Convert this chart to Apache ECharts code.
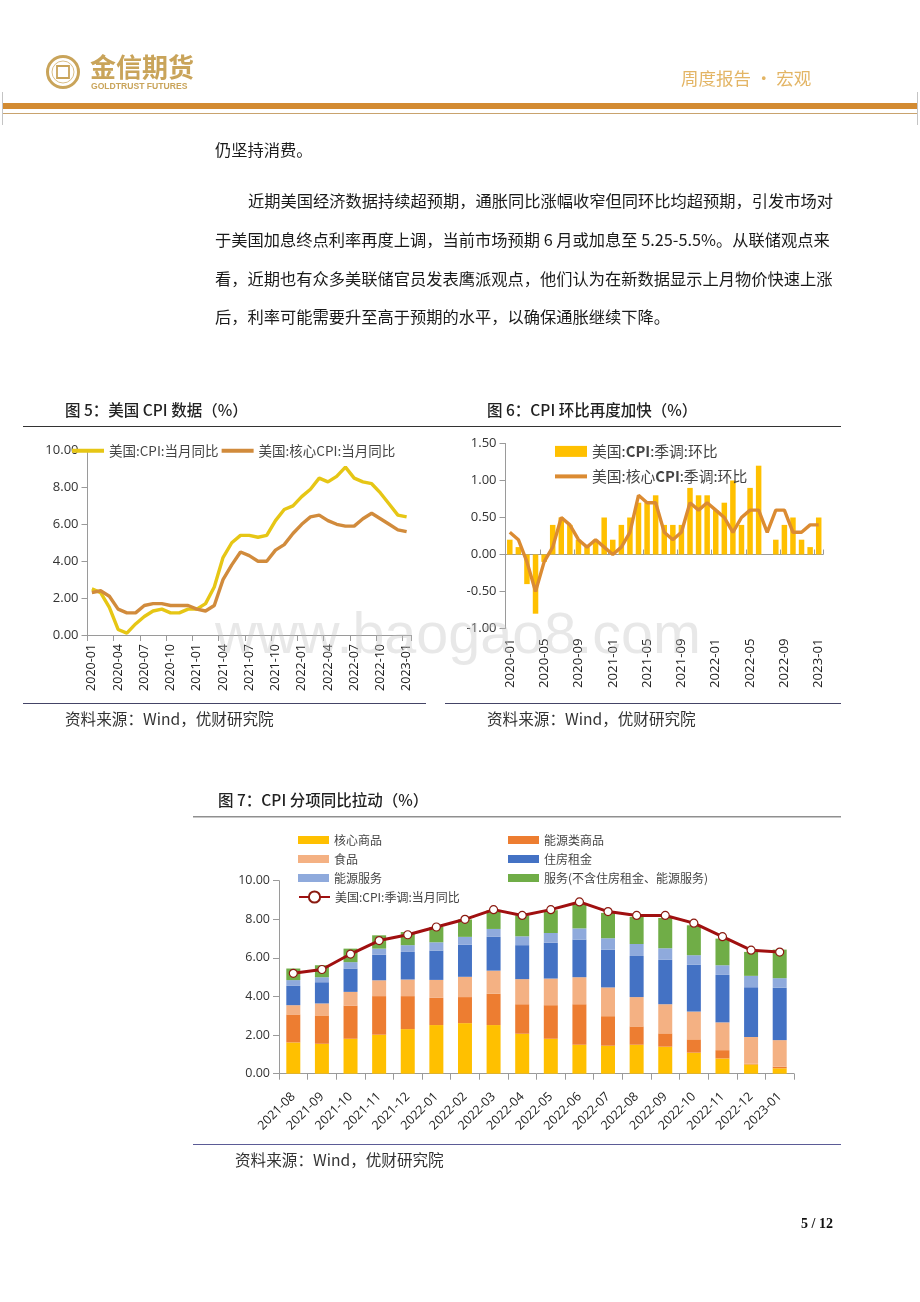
<!DOCTYPE html>
<html><head><meta charset="utf-8"><style>html,body{margin:0;padding:0;background:#fff}#c{width:920px;height:1302px}</style>
<script src="https://cdn.jsdelivr.net/npm/echarts@6/dist/echarts.min.js"></script></head>
<body><div id="c"></div>
<script>
const monthsA = [];
for (const [y, n] of [[2020, 12], [2021, 12], [2022, 12], [2023, 1]]) for (let m = 1; m <= n; m++) monthsA.push(y + '-' + String(m).padStart(2, '0'));
const cpiYoY = [2.5,2.3,1.5,0.3,0.1,0.6,1.0,1.3,1.4,1.2,1.2,1.4,1.4,1.7,2.6,4.2,5.0,5.4,5.4,5.3,5.4,6.2,6.8,7.0,7.5,7.9,8.5,8.3,8.6,9.1,8.5,8.3,8.2,7.7,7.1,6.5,6.4];
const coreYoY = [2.3,2.4,2.1,1.4,1.2,1.2,1.6,1.7,1.7,1.6,1.6,1.6,1.4,1.3,1.6,3.0,3.8,4.5,4.3,4.0,4.0,4.6,4.9,5.5,6.0,6.4,6.5,6.2,6.0,5.9,5.9,6.3,6.6,6.3,6.0,5.7,5.6];
const cpiMoM = [0.2,0.1,-0.4,-0.8,-0.1,0.4,0.5,0.4,0.2,0.1,0.2,0.5,0.2,0.4,0.5,0.7,0.7,0.8,0.4,0.4,0.4,0.9,0.8,0.8,0.6,0.7,1.0,0.4,0.9,1.2,0,0.2,0.4,0.5,0.2,0.1,0.5];
const coreMoM = [0.3,0.2,-0.1,-0.5,-0.1,0.1,0.5,0.4,0.2,0.1,0.2,0.1,0,0.1,0.3,0.8,0.7,0.7,0.3,0.2,0.3,0.7,0.6,0.7,0.6,0.5,0.3,0.5,0.6,0.6,0.3,0.6,0.6,0.3,0.3,0.4,0.4];
const monthsB = ['2021-08','2021-09','2021-10','2021-11','2021-12','2022-01','2022-02','2022-03','2022-04','2022-05','2022-06','2022-07','2022-08','2022-09','2022-10','2022-11','2022-12','2023-01'];
const coreGoods = [1.62,1.55,1.81,2.02,2.31,2.52,2.62,2.52,2.07,1.81,1.5,1.45,1.5,1.4,1.09,0.79,0.48,0.28];
const energyGoods = [1.45,1.47,1.72,2.0,1.71,1.41,1.35,1.62,1.53,1.74,2.1,1.53,0.95,0.69,0.69,0.43,0.04,0.08];
const food = [0.48,0.62,0.71,0.82,0.86,0.93,1.05,1.2,1.3,1.38,1.4,1.49,1.52,1.51,1.44,1.44,1.38,1.38];
const rent = [1.0,1.1,1.21,1.33,1.43,1.52,1.67,1.75,1.76,1.86,1.95,1.96,2.13,2.3,2.42,2.46,2.58,2.71];
const energyServices = [0.3,0.26,0.33,0.31,0.35,0.43,0.4,0.41,0.46,0.5,0.58,0.59,0.62,0.6,0.5,0.5,0.59,0.5];
const otherServices = [0.6,0.62,0.7,0.69,0.68,0.79,0.9,0.97,1.08,1.18,1.28,1.31,1.4,1.57,1.55,1.38,1.24,1.48];
const cpiTotal = [5.2,5.4,6.2,6.9,7.2,7.6,8.0,8.5,8.2,8.5,8.9,8.4,8.2,8.2,7.8,7.1,6.4,6.3];
const bodyLines = [
  ['仍坚持消费。', 215, 150],
  ['近期美国经济数据持续超预期，通胀同比涨幅收窄但同环比均超预期，引发市场对', 248, 201],
  ['于美国加息终点利率再度上调，当前市场预期 6 月或加息至 5.25-5.5%。从联储观点来', 215, 240],
  ['看，近期也有众多美联储官员发表鹰派观点，他们认为在新数据显示上月物价快速上涨', 215, 279],
  ['后，利率可能需要升至高于预期的水平，以确保通胀继续下降。', 215, 317]
];
const captions = [
  ['图 5：美国 CPI 数据（%）', 65, 410],['图 6：CPI 环比再度加快（%）', 487, 410],['图 7：CPI 分项同比拉动（%）', 218, 800]
];
const sources = [['资料来源：Wind，优财研究院', 65, 719],['资料来源：Wind，优财研究院', 487, 719],['资料来源：Wind，优财研究院', 235, 1160]];

const CJK = '"Noto Sans CJK SC"';
const AX = '#9a9a9a', TX = '#444';
const txt = (t, x, y, size, extra = {}) => ({type:'text', silent:true, x, y, style:Object.assign({text:t, fontSize:size, fontFamily:CJK, fill:'#1a1a1a', verticalAlign:'middle'}, extra)});
const rect = (x, y, w, h, fill) => ({type:'rect', silent:true, shape:{x, y, width:w, height:h}, style:{fill}});
const graphics = [
  rect(3, 103, 914, 6, '#D38B32'), rect(3, 113, 914, 1, '#C9A36E'),
  rect(2, 92, 1, 33, '#c4c4c4'), rect(917, 92, 1, 33, '#c4c4c4'),
  {type:'circle', silent:true, shape:{cx:63, cy:72, r:15.5}, style:{fill:'none', stroke:'#C9A45A', lineWidth:3}},
  {type:'circle', silent:true, shape:{cx:63, cy:72, r:11}, style:{fill:'none', stroke:'#D9BE86', lineWidth:1}},
  {type:'rect', silent:true, shape:{x:57, y:66, width:12, height:12}, style:{fill:'#fff', stroke:'#C9A45A', lineWidth:1.8}},
  txt('金信期货', 90, 67, 26, {fill:'#C9A45A', fontWeight:'bold'}),
  txt('GOLDTRUST FUTURES', 91, 87, 8.6, {fill:'#C9A45A', fontFamily:'"Liberation Sans"', fontWeight:'bold'}),
  txt('周度报告 • 宏观', 681, 78, 17.5, {fill:'#E3B565'}),
  rect(23, 426, 818, 1, '#333'),
  rect(23, 703, 403, 1, '#444466'), rect(445, 703, 396, 1, '#444466'),
  rect(193, 816, 648, 1.5, '#8f8f8f'), rect(193, 1144, 648, 1, '#5b5b96'),
  txt('5 / 12', 833, 1224, 14, {fill:'#111', fontFamily:'"Liberation Serif"', fontWeight:'bold', align:'right'}),
  txt('www.baogao8.com', 215, 637, 57.5, {fill:'rgba(190,190,190,0.36)', fontFamily:'"Liberation Sans"'})
];
graphics[graphics.length - 1].z = 100;
bodyLines.forEach(l => graphics.push(txt(l[0], l[1], l[2], 16.25)));
captions.forEach(l => graphics.push(txt(l[0], l[1], l[2], 15.5, {fontWeight:500, fill:'#222'})));
sources.forEach(l => graphics.push(txt(l[0], l[1], l[2], 15.6, {fill:'#333'})));

const yA = (gi, min, max, iv, size) => ({type:'value', gridIndex:gi, min, max, interval:iv, splitLine:{show:false},
  axisLine:{show:true, lineStyle:{color:AX, width:1}}, axisTick:{show:true, length:6, lineStyle:{color:AX}},
  axisLabel:{fontFamily:'"Open Sans"', fontSize:size, color:'#333', margin:9, formatter:v => v.toFixed(2)}});
const legendA = {fontFamily:CJK, fontSize:13.5, color:TX};
const legendB = {fontFamily:CJK, fontSize:14.8, color:TX, rich:{b:{fontFamily:CJK, fontSize:14.8, fontWeight:'bold', color:TX}}};
const legendC = {fontFamily:CJK, fontSize:12, color:TX, lineHeight:14};
const boldCpi = n => n.replace('CPI', '{b|CPI}');
const bar = (name, data, color) => ({name, type:'bar', stack:'a', xAxisIndex:3, yAxisIndex:2, data, barWidth:14, itemStyle:{color}});

const option = {
  animation:false,
  graphic:{elements:graphics},
  grid:[
    {left:87.5, top:450.5, width:323.5, height:184.5},
    {left:505.5, top:443.5, width:317.5, height:185},
    {left:279, top:880.7, width:515, height:193}
  ],
  xAxis:[
    {type:'category', gridIndex:0, data:monthsA, axisLine:{lineStyle:{color:AX}}, axisTick:{show:true, interval:2, length:6, lineStyle:{color:AX}},
     axisLabel:{interval:2, rotate:90, fontFamily:'"Open Sans"', fontSize:12.5, color:'#222', margin:9}},
    {type:'category', gridIndex:1, data:monthsA, position:'bottom', axisLine:{show:false, onZero:false}, axisTick:{show:false},
     axisLabel:{interval:3, rotate:90, fontFamily:'"Open Sans"', fontSize:13.2, color:'#222', margin:10}},
    {type:'category', gridIndex:1, data:monthsA, position:'bottom', axisLine:{show:true, onZero:true, lineStyle:{color:AX}}, axisTick:{show:true, inside:true, interval:3, length:5, lineStyle:{color:AX}}, axisLabel:{show:false}},
    {type:'category', gridIndex:2, data:monthsB, axisLine:{lineStyle:{color:AX}}, axisTick:{show:true, length:6, lineStyle:{color:AX}},
     axisLabel:{interval:0, rotate:45, fontFamily:'"Open Sans"', fontSize:12.5, color:'#222', margin:21}}
  ],
  yAxis:[yA(0, 0, 10, 2, 13), yA(1, -1, 1.5, 0.5, 13), yA(2, 0, 10, 2, 12.5)],
  legend:[
    {data:[{name:'美国:CPI:当月同比',icon:'rect'},{name:'美国:核心CPI:当月同比',icon:'rect'}], left:72, top:444, itemWidth:32, itemHeight:4, itemGap:3, textStyle:legendA, padding:0},
    {data:[{name:'美国:CPI:季调:环比', icon:'rect'}], left:555, top:444, itemWidth:32, itemHeight:11, textStyle:legendB, formatter:boldCpi, padding:0},
    {data:[{name:'美国:核心CPI:季调:环比', icon:'rect'}], left:555, top:469, itemWidth:32, itemHeight:4, textStyle:legendB, formatter:boldCpi, padding:0},
    {data:[{name:'核心商品',icon:'rect'},{name:'食品',icon:'rect'},{name:'能源服务',icon:'rect'}], orient:'vertical', left:298, top:833, itemWidth:31, itemHeight:8, itemGap:5, textStyle:legendC, padding:0},
    {data:['美国:CPI:季调:当月同比'], left:298, top:890, itemWidth:31, itemHeight:14, textStyle:legendC, padding:0},
    {data:[{name:'能源类商品',icon:'rect'},{name:'住房租金',icon:'rect'},{name:'服务(不含住房租金、能源服务)',icon:'rect'}], orient:'vertical', left:508, top:833, itemWidth:31, itemHeight:8, itemGap:5, textStyle:legendC, padding:0}
  ],
  series:[
    {name:'美国:CPI:当月同比', type:'line', xAxisIndex:0, yAxisIndex:0, data:cpiYoY, symbol:'none', lineStyle:{color:'#E6C615', width:3.4}, itemStyle:{color:'#E6C615'}},
    {name:'美国:核心CPI:当月同比', type:'line', xAxisIndex:0, yAxisIndex:0, data:coreYoY, symbol:'none', lineStyle:{color:'#D18B3C', width:3.4}, itemStyle:{color:'#D18B3C'}},
    {name:'美国:CPI:季调:环比', type:'bar', xAxisIndex:1, yAxisIndex:1, data:cpiMoM, barWidth:5.5, itemStyle:{color:'#FFC000'}},
    {name:'美国:核心CPI:季调:环比', type:'line', xAxisIndex:1, yAxisIndex:1, data:coreMoM, symbol:'none', lineStyle:{color:'#DB8B32', width:3.4}, itemStyle:{color:'#DB8B32'}},
    bar('核心商品', coreGoods, '#FFC000'), bar('能源类商品', energyGoods, '#ED7D31'), bar('食品', food, '#F4B183'),
    bar('住房租金', rent, '#4472C4'), bar('能源服务', energyServices, '#8FAADC'), bar('服务(不含住房租金、能源服务)', otherServices, '#70AD47'),
    {name:'美国:CPI:季调:当月同比', type:'line', xAxisIndex:3, yAxisIndex:2, data:cpiTotal, symbol:'circle', symbolSize:8, z:5,
     lineStyle:{color:'#A01010', width:3}, itemStyle:{color:'#fff', borderColor:'#8A1A10', borderWidth:1.2}}
  ]
};
echarts.init(document.getElementById('c'), null, {renderer:'canvas'}).setOption(option);
</script></body></html>
